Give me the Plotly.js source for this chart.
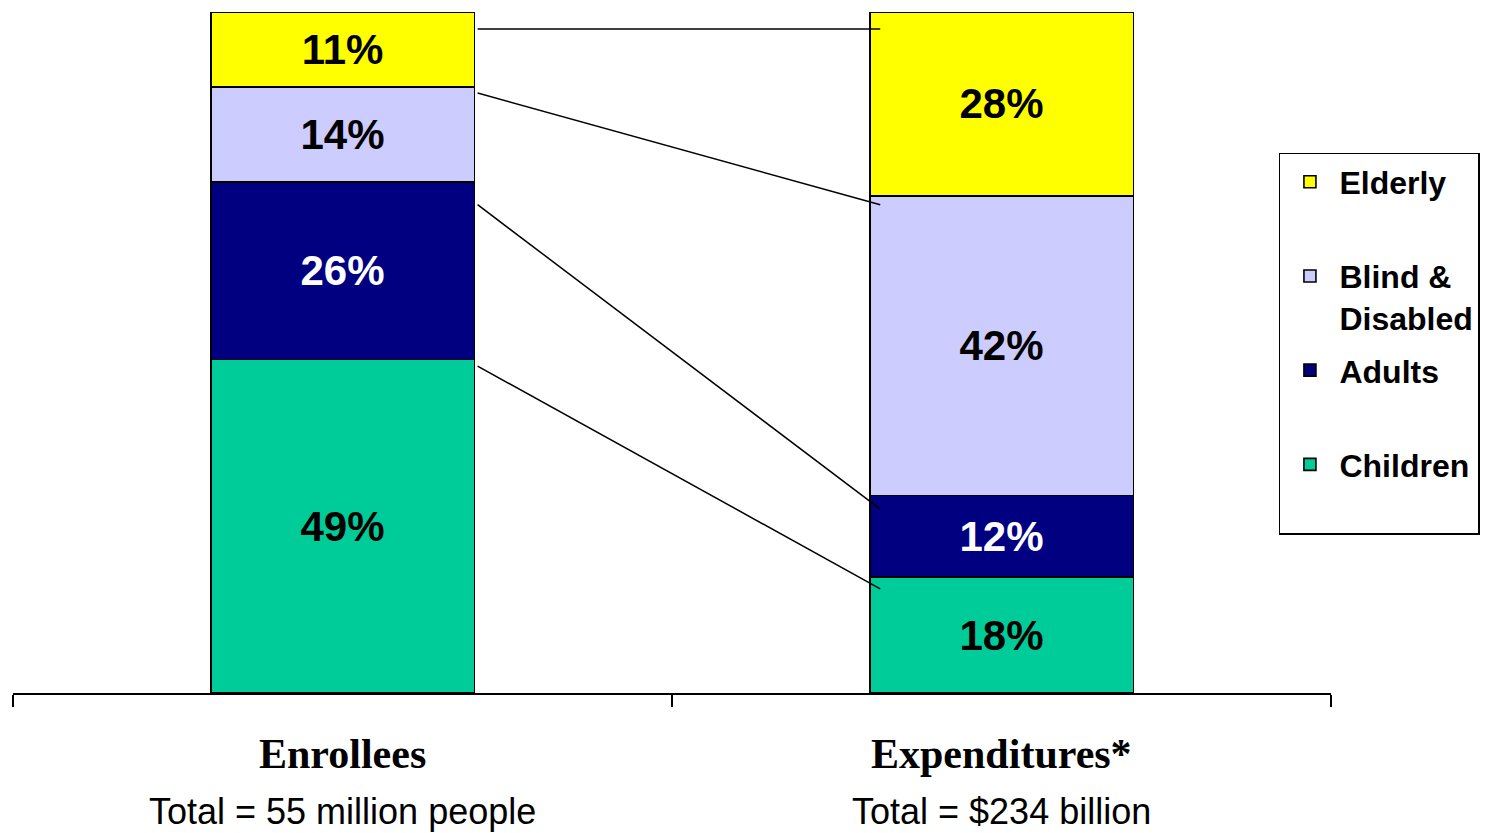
<!DOCTYPE html>
<html>
<head>
<meta charset="utf-8">
<script src="https://cdn.plot.ly/plotly-3.0.1.min.js"></script>
<style>html,body{margin:0;padding:0;background:#fff;}#chart{width:1494px;height:833px;}</style>
</head>
<body>
<div id="chart"></div>
<script>
// ---- data ----
var categories = ["Enrollees", "Expenditures*"];
var subtitles = ["Total = 55 million people", "Total = $234 billion"];
var seriesNames = ["Children<br>&nbsp;", "Adults<br>&nbsp;", "Blind &<br>Disabled", "Elderly<br>&nbsp;"];
var children = [49, 17];
var adults = [26, 12];
var blindDisabled = [14, 44];
var elderly = [11, 27];
var childrenLabels = ["49%", "18%"];
var adultsLabels = ["26%", "12%"];
var blindDisabledLabels = ["14%", "42%"];
var elderlyLabels = ["11%", "28%"];
// connector lines: level (%) where each line leaves Enrollees and meets Expenditures
var connectorStart = [97.5, 88.1, 71.7, 48.0];
var connectorEnd = [97.5, 71.7, 27.0, 15.3];

var colors = ["#00CC99", "#000080", "#CCCCFF", "#FFFF00"];
var textColors = ["#000000", "#FFFFFF", "#000000", "#000000"];
var values = [children, adults, blindDisabled, elderly];
var labels = [childrenLabels, adultsLabels, blindDisabledLabels, elderlyLabels];

var sans = "Liberation Sans, Arial, sans-serif";
var serif = "Liberation Serif, Times New Roman, serif";

var traces = values.map(function (v, i) {
  return {
    type: "bar",
    name: seriesNames[i],
    legendgroup: "g" + i,
    legendrank: values.length - i,
    x: categories,
    y: v,
    text: labels[i],
    texttemplate: "%{text}",
    textposition: "inside",
    insidetextanchor: "middle",
    textangle: 0,
    constraintext: "none",
    textfont: {family: sans, size: 42, color: textColors[i], weight: "bold"},
    marker: {color: colors[i], line: {color: "#000000", width: 1.6}},
    hoverinfo: "skip"
  };
});

var shapes = connectorStart.map(function (s, i) {
  return {
    type: "line", xref: "x", yref: "y",
    x0: 0.205, x1: 0.816, y0: s, y1: connectorEnd[i],
    line: {color: "#000000", width: 1.5}
  };
});

var annotations = [];
categories.forEach(function (c, i) {
  annotations.push({
    xref: "x", yref: "paper", x: i, y: -0.0896, yanchor: "middle",
    text: "<b>" + c + "</b>", showarrow: false,
    font: {family: serif, size: 42, color: "#000000"}
  });
  annotations.push({
    xref: "x", yref: "paper", x: i, y: -0.1747, yanchor: "middle",
    text: subtitles[i], showarrow: false,
    font: {family: sans, size: 36, color: "#000000"}
  });
});

var layout = {
  width: 1494, height: 833,
  margin: {l: 13, r: 163, t: 12, b: 140},
  paper_bgcolor: "#ffffff", plot_bgcolor: "#ffffff",
  barmode: "stack",
  bargap: 0.6,
  showlegend: true,
  legend: {
    x: 0.9605, xanchor: "left", y: 0.793, yanchor: "top",
    bordercolor: "#000000", borderwidth: 1.5, bgcolor: "#ffffff",
    traceorder: "grouped", valign: "top", tracegroupgap: 8,
    itemwidth: 49,
    font: {family: sans, size: 32, color: "#000000", weight: "bold"}
  },
  xaxis: {
    type: "category", range: [-0.5, 1.5],
    showline: true, linecolor: "#000000", linewidth: 1.5,
    ticks: "outside", tickson: "boundaries", ticklen: 12, tickcolor: "#000000", tickwidth: 1.5,
    showticklabels: false, showgrid: false, zeroline: false, fixedrange: true
  },
  yaxis: {
    range: [0, 100], visible: false, showgrid: false, zeroline: false, fixedrange: true
  },
  shapes: shapes,
  annotations: annotations,
  font: {family: sans}
};

Plotly.newPlot("chart", traces, layout, {displayModeBar: false, staticPlot: true});
</script>
</body>
</html>
